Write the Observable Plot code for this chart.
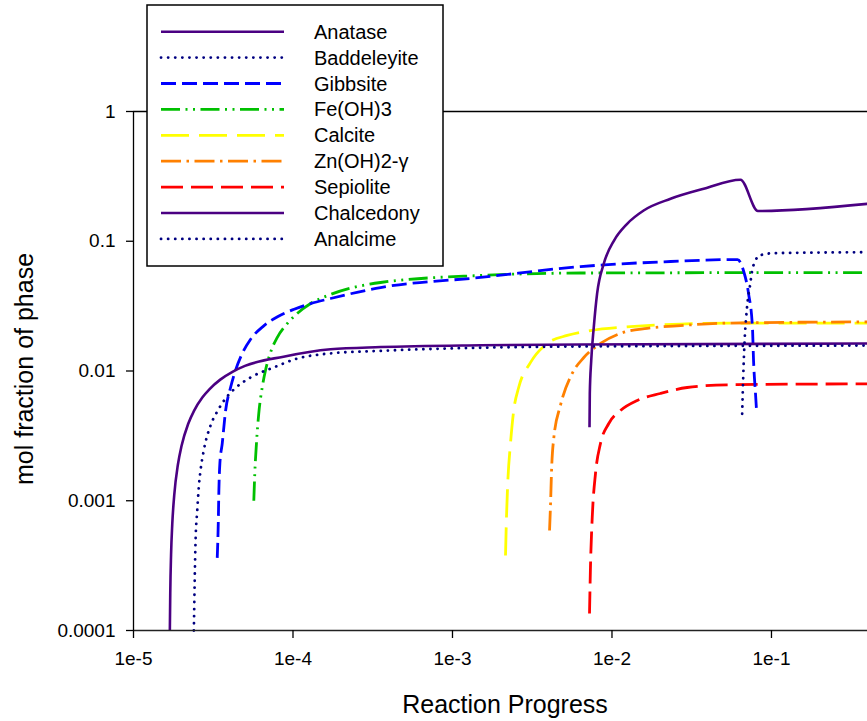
<!DOCTYPE html>
<html>
<head>
<meta charset="utf-8">
<script src="https://cdn.jsdelivr.net/npm/d3@7"></script>
<script src="https://cdn.jsdelivr.net/npm/@observablehq/plot@0.6"></script>
<style>
  html, body { margin: 0; padding: 0; background: #fff; }
  #chart svg { display: block; }
</style>
</head>
<body>
<div id="chart"></div>
<script>
// Reaction progress (x) and mol fraction (y) for each mineral phase
const phaseNames = ["Anatase", "Baddeleyite", "Gibbsite", "Fe(OH)3", "Calcite",
                    "Zn(OH)2-\u03b3", "Sepiolite", "Chalcedony", "Analcime"];

const anataseX = [1.69e-5, 1.70e-5, 1.72e-5, 1.75e-5, 1.8e-5, 1.9e-5, 2.0e-5, 2.2e-5, 2.4e-5,
                  2.7e-5, 3.0e-5, 3.5e-5, 4.2e-5, 5.0e-5, 8.72e-5, 1.72e-4, 3.54e-4, 1.5e-3,
                  6.35e-3, 0.4];
const anataseY = [1.0e-4, 1.94e-4, 3.84e-4, 6.6e-4, 1.10e-3, 1.91e-3, 2.64e-3, 3.9e-3, 4.95e-3,
                  6.24e-3, 7.26e-3, 8.58e-3, 9.9e-3, 1.095e-2, 1.29e-2, 1.47e-2, 1.53e-2, 1.58e-2,
                  1.60e-2, 1.63e-2];

const baddeleyiteX = [2.39e-5, 2.45e-5, 2.51e-5, 2.57e-5, 2.63e-5, 2.75e-5, 3.04e-5, 3.36e-5,
                      3.88e-5, 4.36e-5, 5.41e-5, 7.55e-5, 1.07e-4, 1.64e-4, 3.54e-4, 6.35e-3, 0.4];
const baddeleyiteY = [1.0e-4, 4.94e-4, 8.41e-4, 1.3e-3, 1.70e-3, 2.4e-3, 3.8e-3, 4.9e-3,
                      6.4e-3, 7.4e-3, 8.91e-3, 1.064e-2, 1.25e-2, 1.36e-2, 1.43e-2, 1.545e-2, 1.57e-2];

const gibbsiteX = [3.35e-5, 3.40e-5, 3.43e-5, 3.48e-5, 3.60e-5, 3.78e-5, 4.06e-5, 4.36e-5,
                   4.80e-5, 5.41e-5, 6.53e-5, 8.00e-5, 1.007e-4, 1.29e-4, 1.72e-4, 3.54e-4,
                   1.50e-3, 6.35e-3, 2.33e-2, 6.13e-2, 6.67e-2, 7.18e-2, 7.60e-2, 7.72e-2,
                   7.94e-2, 8.06e-2];
const gibbsiteY = [3.63e-4, 6.68e-4, 1.20e-3, 1.94e-3, 2.76e-3, 4.96e-3, 7.46e-3, 1.01e-2,
                   1.36e-2, 1.75e-2, 2.22e-2, 2.62e-2, 2.98e-2, 3.31e-2, 3.62e-2, 4.40e-2,
                   5.26e-2, 6.38e-2, 6.98e-2, 7.23e-2, 5.95e-2, 3.96e-2, 2.16e-2, 1.20e-2,
                   6.71e-3, 4.96e-3];

const feoh3X = [5.68e-5, 5.76e-5, 5.90e-5, 6.10e-5, 6.41e-5, 6.72e-5, 7.23e-5, 7.96e-5,
                9.20e-5, 1.06e-4, 1.29e-4, 1.72e-4, 3.54e-4, 1.50e-3, 6.35e-3, 0.4];
const feoh3Y = [1.00e-3, 1.62e-3, 2.76e-3, 4.70e-3, 7.46e-3, 1.01e-2, 1.39e-2, 1.81e-2,
                2.32e-2, 2.77e-2, 3.31e-2, 3.89e-2, 4.81e-2, 5.45e-2, 5.69e-2, 5.74e-2];

const calciteX = [2.15e-3, 2.18e-3, 2.22e-3, 2.31e-3, 2.42e-3, 2.60e-3, 3.08e-3, 3.93e-3,
                  5.24e-3, 7.33e-3, 1.31e-2, 2.69e-2, 5.53e-2, 0.4];
const calciteY = [3.79e-4, 7.43e-4, 1.36e-3, 2.76e-3, 4.96e-3, 7.46e-3, 1.16e-2, 1.63e-2,
                  1.88e-2, 2.05e-2, 2.20e-2, 2.30e-2, 2.34e-2, 2.34e-2];

const znohX = [4.06e-3, 4.12e-3, 4.18e-3, 4.32e-3, 4.75e-3, 5.63e-3, 6.66e-3, 8.47e-3,
               1.13e-2, 1.66e-2, 2.69e-2, 5.27e-2, 0.4];
const znohY = [5.90e-4, 9.52e-4, 1.71e-3, 3.07e-3, 5.42e-3, 9.57e-3, 1.27e-2, 1.63e-2,
               1.95e-2, 2.13e-2, 2.24e-2, 2.34e-2, 2.39e-2];

const sepioliteX = [7.23e-3, 7.33e-3, 7.52e-3, 7.88e-3, 8.47e-3, 9.55e-3, 1.13e-2, 1.44e-2,
                    2.01e-2, 2.96e-2, 5.27e-2, 0.4];
const sepioliteY = [1.35e-4, 3.08e-4, 7.47e-4, 1.62e-3, 2.76e-3, 3.94e-3, 4.96e-3, 5.93e-3,
                    6.71e-3, 7.46e-3, 7.83e-3, 7.96e-3];

const chalcedonyX = [7.23e-3, 7.26e-3, 7.41e-3, 7.69e-3, 8.07e-3, 8.89e-3, 1.03e-2, 1.245e-2,
                     1.58e-2, 2.33e-2, 3.76e-2, 6.39e-2, 8.23e-2, 0.4];
const chalcedonyY = [3.69e-3, 6.71e-3, 1.20e-2, 2.18e-2, 3.96e-2, 6.74e-2, 0.1013, 0.1363,
                     0.1726, 0.2124, 0.2536, 0.2976, 0.1711, 0.1944];

const analcimeX = [6.55e-2, 6.65e-2, 6.77e-2, 6.94e-2, 7.10e-2, 7.31e-2, 7.57e-2, 7.94e-2,
                   8.41e-2, 0.1029, 0.4];
const analcimeY = [4.68e-3, 8.96e-3, 1.62e-2, 2.60e-2, 3.49e-2, 4.42e-2, 5.95e-2, 7.11e-2,
                   7.77e-2, 8.09e-2, 8.23e-2];

// Axis ticks and their labels
const xTicks = [1e-5, 1e-4, 1e-3, 1e-2, 1e-1];
const xTickLabels = ["1e-5", "1e-4", "1e-3", "1e-2", "1e-1"];
const yTicks = [1e-4, 1e-3, 1e-2, 1e-1, 1];
const yTickLabels = ["0.0001", "0.001", "0.01", "0.1", "1"];

const seriesX = [anataseX, baddeleyiteX, gibbsiteX, feoh3X, calciteX, znohX, sepioliteX, chalcedonyX, analcimeX];
const seriesY = [anataseY, baddeleyiteY, gibbsiteY, feoh3Y, calciteY, znohY, sepioliteY, chalcedonyY, analcimeY];

// Line styles for each phase
const indigo = "#4b0082", navy = "#000080";
const dotted = {dash: "0.1,7", cap: "round", width: 2.8};
const styles = [
  {stroke: indigo, dash: null, cap: "butt", width: 2.6},
  {stroke: navy, ...dotted},
  {stroke: "#0000ff", dash: "15,6", cap: "butt", width: 2.8},
  {stroke: "#00c000", dash: "19,5.5,2,5.5,2,5.5", cap: "butt", width: 2.8},
  {stroke: "#ffff00", dash: "28,10", cap: "butt", width: 2.8},
  {stroke: "#ff8000", dash: "20,5.5,2.5,5.5", cap: "butt", width: 2.8},
  {stroke: "#ff0000", dash: "22,8", cap: "butt", width: 2.8},
  {stroke: indigo, dash: null, cap: "butt", width: 2.6},
  {stroke: navy, ...dotted}
];

const rows = phaseNames.map((name, i) =>
  seriesX[i].map((x, j) => ({phase: name, x, y: seriesY[i][j]})));

const W = 867, H = 721;
const font = "'Liberation Sans', Arial, Helvetica, sans-serif";

const chart = Plot.plot({
  width: W,
  height: H,
  marginLeft: 133,
  marginRight: 0,
  marginTop: 111,
  marginBottom: 91,
  style: {fontFamily: font, fontSize: "19px", background: "#fff", color: "#000", overflow: "visible"},
  x: {type: "log", domain: [1e-5, 0.4], label: null},
  y: {type: "log", domain: [1e-4, 1], label: null},
  marks: [
    // draw the upper phases first so the later ones sit on top
    ...[4, 5, 6, 3, 2, 0, 1, 8, 7].map(i =>
      Plot.line(rows[i], {
        x: "x", y: "y",
        stroke: styles[i].stroke,
        strokeWidth: styles[i].width,
        strokeDasharray: styles[i].dash,
        strokeLinecap: styles[i].cap,
        curve: "monotone-x"
      })
    ),
    Plot.ruleY([1], {stroke: "#000", strokeWidth: 1.3}),
    Plot.ruleY([1e-4], {stroke: "#222", strokeWidth: 1.5}),
    Plot.ruleX([1e-5], {stroke: "#000", strokeWidth: 1.3}),
    Plot.axisX({
      ticks: xTicks, tickSize: 8, tickPadding: 13,
      tickFormat: d => xTickLabels[xTicks.indexOf(d)], label: null, strokeWidth: 1.3
    }),
    Plot.axisY({
      ticks: yTicks, tickSize: 7, tickPadding: 11,
      tickFormat: d => yTickLabels[yTicks.indexOf(d)], label: null, strokeWidth: 1.3
    })
  ]
});

const svg = d3.select(chart);

// Axis titles
svg.append("text")
  .attr("x", 505).attr("y", 704).attr("dy", "0.35em")
  .attr("text-anchor", "middle")
  .style("font-family", font).style("font-size", "25px")
  .text("Reaction Progress");

svg.append("text")
  .attr("transform", "translate(24,369) rotate(-90)")
  .attr("dy", "0.35em")
  .attr("text-anchor", "middle")
  .style("font-family", font).style("font-size", "25px")
  .text("mol fraction of phase");

// Legend box in the upper-left corner
const legend = svg.append("g");
legend.append("rect")
  .attr("x", 147).attr("y", 5).attr("width", 296).attr("height", 261)
  .attr("fill", "#fff").attr("stroke", "#000").attr("stroke-width", 1.5);

phaseNames.forEach((name, i) => {
  const yy = 31.7 + i * 25.9;
  const s = styles[i];
  legend.append("line")
    .attr("x1", 161).attr("x2", 284).attr("y1", yy).attr("y2", yy)
    .attr("stroke", s.stroke).attr("stroke-width", s.width)
    .attr("stroke-dasharray", s.dash).attr("stroke-linecap", s.cap);
  legend.append("text")
    .attr("x", 314).attr("y", yy).attr("dy", "0.35em")
    .attr("text-anchor", "start")
    .style("font-family", font).style("font-size", "20px")
    .text(name);
});

document.getElementById("chart").appendChild(chart);
</script>
</body>
</html>
